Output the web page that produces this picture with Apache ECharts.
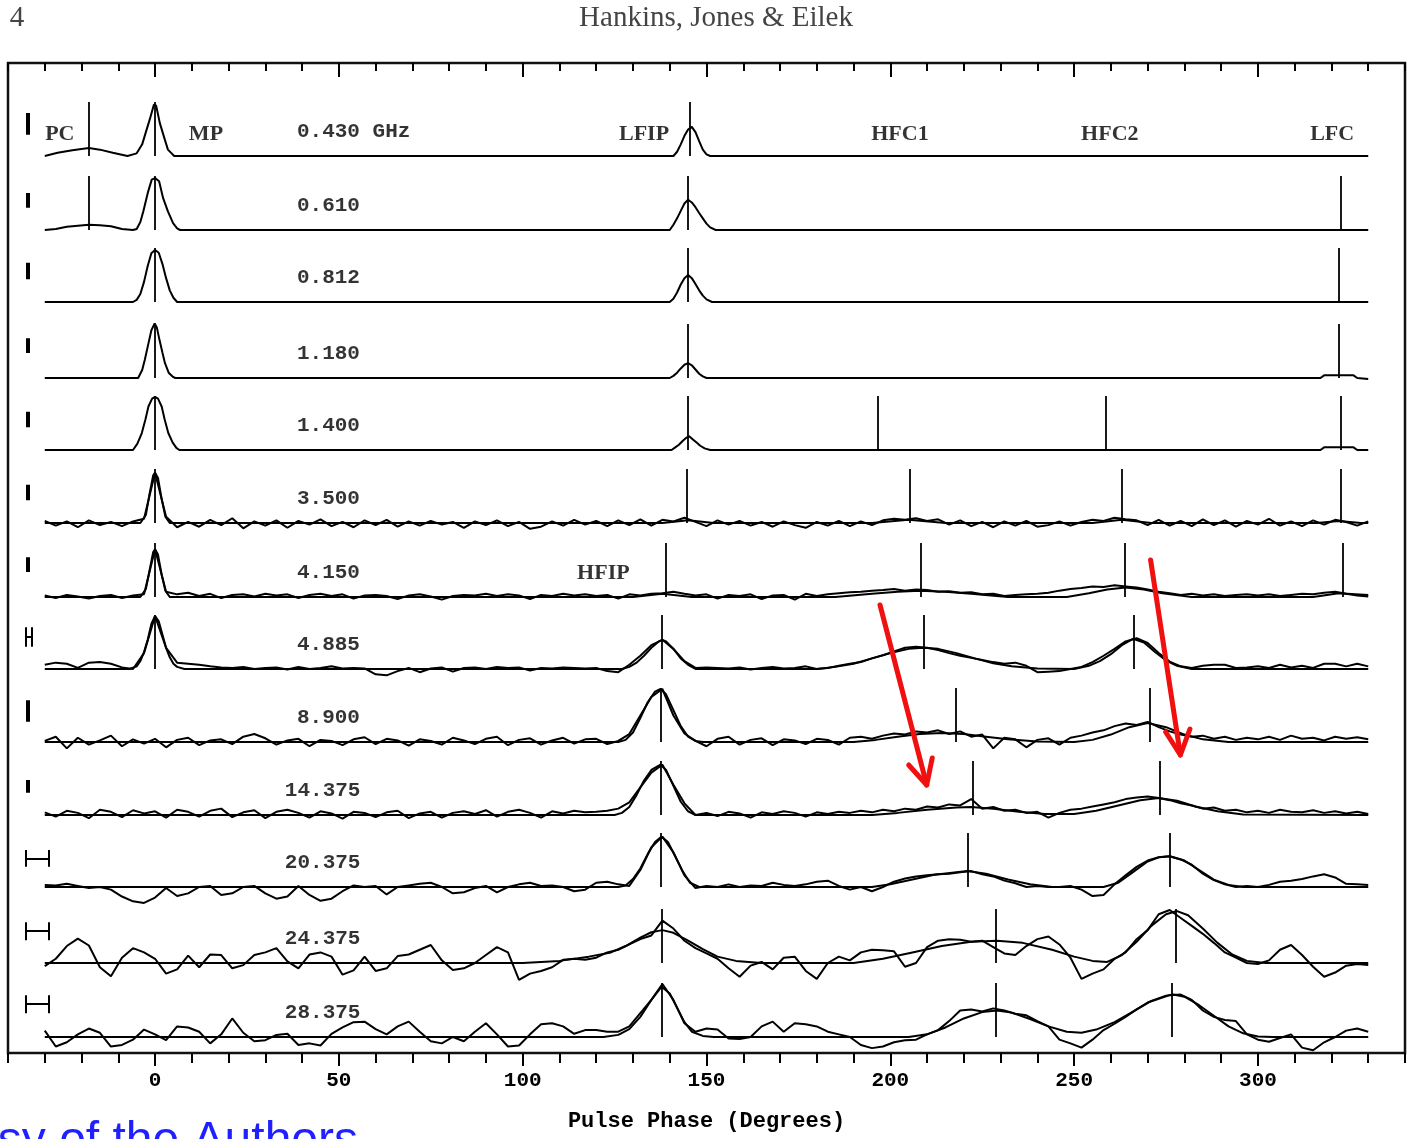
<!DOCTYPE html>
<html>
<head>
<meta charset="utf-8">
<script src="https://cdn.jsdelivr.net/npm/echarts@6/dist/echarts.min.js"></script>
<style>
html,body{margin:0;padding:0;background:#fff}
#chart{width:1408px;height:1139px}
</style>
</head>
<body>
<div id="chart"></div>
<script>
// ---- data (intensity: 1 = full panel height) ----

var freqLabels = ['0.430 GHz','0.610','0.812','1.180','1.400','3.500','4.150','4.885','8.900','14.375','20.375','24.375','28.375'];
var majorTicks = [0, 50, 100, 150, 200, 250, 300];

// smooth low-frequency profiles, [phase, intensity]
var prof430 = [[-30,0],[-26.5,0.06],[-22.5,0.11],[-18,0.15],[-15,0.12],[-11.5,0.06],[-7.5,0],[-5,0.05],[-3.5,0.22],[-2.5,0.45],[-1.4,0.7],[-0.3,0.97],[0.3,0.95],[1.3,0.62],[2.7,0.3],[3.5,0.12],[4.5,0.05],[5.2,0],
  [141,0],[142,0.08],[143,0.22],[144,0.38],[145,0.5],[146,0.55],[147,0.45],[148,0.28],[149,0.12],[150,0.03],[151,0],[330,0]];
var prof610 = [[-30,0],[-27,0.02],[-24,0.06],[-21,0.08],[-18,0.1],[-15,0.09],[-12,0.07],[-9,0.02],[-6,0],[-5,0.02],[-4,0.15],[-3.2,0.35],[-1.9,0.72],[-0.9,0.95],[0,0.98],[1.1,0.92],[2.2,0.6],[3.5,0.35],[4.9,0.13],[6,0.03],[6.8,0],
  [140,0],[141,0.1],[142,0.22],[143,0.36],[144,0.5],[145,0.57],[146,0.52],[147,0.43],[148,0.32],[149,0.22],[150,0.12],[151,0.05],[152.5,0],[330,0]];
var prof812 = [[-30,0],[-22,0],[-21.5,0.03],[-21,0],[-6,0],[-5,0.04],[-4,0.15],[-3,0.38],[-2,0.68],[-1,0.92],[0,0.98],[1,0.93],[2,0.72],[3,0.45],[4,0.22],[5,0.08],[6,0],
  [140,0],[141,0.06],[142,0.18],[143,0.33],[144,0.45],[145,0.51],[146,0.45],[147,0.34],[148,0.22],[149,0.12],[150,0.05],[151.5,0],[330,0]];
var prof1180 = [[-30,0],[-6,0],[-4.6,0],[-3.5,0.15],[-2.8,0.34],[-1.9,0.62],[-1,0.9],[-0.1,1.03],[0.5,0.95],[1.2,0.72],[2,0.48],[2.7,0.28],[3.7,0.1],[4.9,0.02],[5.5,0],
  [140,0],[141,0.04],[142,0.1],[143,0.18],[144,0.25],[145,0.28],[146,0.24],[147,0.16],[148,0.08],[149,0.03],[150,0],[317,0],[318,0.05],[326,0.05],[327,0],[330,-0.02]];
var prof1400 = [[-30,0],[-6,0],[-4.8,0.12],[-3.6,0.32],[-2.6,0.58],[-1.8,0.82],[-0.8,0.97],[0,1.0],[0.8,0.97],[1.8,0.82],[2.6,0.58],[3.6,0.32],[4.8,0.14],[5.8,0.04],[6.6,0],
  [140.5,0],[141.5,0.05],[142.5,0.1],[143.5,0.17],[144.5,0.23],[145.3,0.26],[146.3,0.2],[147.3,0.14],[148.3,0.08],[149.5,0.03],[151,0],[317,0],[318,0.05],[326,0.05],[327,0],[330,0]];

// noisy high-frequency scans: one value every 3 deg from -30 to 330 (rows of 30 deg)
var obs3500 = [
  0.04,-0.05,0.03,-0.08,0.05,-0.04,0.02,-0.06,0.03,0.08,
  0.95,0.12,-0.08,0.02,-0.07,0.06,-0.04,0.09,-0.1,0.03,
  -0.05,0.05,-0.09,0.04,-0.03,0.07,-0.06,0.02,-0.08,0.05,
  -0.04,0.06,-0.07,0.03,-0.05,0.04,-0.03,0.02,-0.09,0.03,
  -0.04,0.05,-0.06,0.02,-0.11,-0.07,0.03,-0.05,0.06,-0.03,
  0.04,-0.06,0.05,-0.04,0.07,-0.05,0.06,0.03,0.1,0.02,
  -0.06,0.05,-0.03,0.04,-0.05,0.02,-0.07,0.03,-0.04,-0.09,
  0.02,-0.05,0.04,-0.06,0.03,-0.04,0.05,0.08,0.06,0.09,
  0.04,0.07,-0.03,0.05,-0.06,0.02,-0.08,0.03,-0.05,0.04,
  -0.07,-0.04,0.03,-0.05,0.02,0.06,0.04,0.1,0.07,0.05,
  -0.04,0.06,-0.05,0.04,-0.06,0.07,-0.04,0.05,-0.07,0.04,
  -0.03,0.08,-0.05,0.03,-0.06,0.05,-0.03,0.06,0.02,-0.05,
  0.03];
var obs4150 = [
  0.03,-0.02,0.04,0.01,-0.03,0.02,0.04,-0.02,0.03,0.05,
  0.9,0.1,0.05,0.08,0.02,0.06,-0.02,0.04,0.05,0.01,
  0.06,0.03,0.05,-0.02,0.04,0.06,0.02,0.05,-0.03,0.03,
  0.04,0.02,-0.04,0.03,0.05,0.01,-0.05,0.02,0.04,0.03,
  0.06,0.02,0.05,0.03,-0.04,0.04,0.02,0.06,0.03,0.05,
  0.02,0.04,-0.03,0.05,0.03,0.06,0.07,0.1,0.06,0.03,
  0.05,-0.03,0.04,0.02,0.05,-0.04,0.03,0.04,-0.05,0.06,
  0.02,0.05,0.07,0.09,0.1,0.12,0.13,0.15,0.12,0.14,
  0.13,0.1,0.11,0.08,0.09,0.05,0.06,0.02,0.04,0.05,
  0.06,0.08,0.12,0.15,0.17,0.2,0.19,0.22,0.2,0.18,
  0.14,0.1,0.07,0.04,0.06,0.03,0.05,0.02,0.04,0.05,
  0.03,0.05,0.02,0.04,0.06,0.05,0.08,0.1,0.06,0.03,
  0.01];
var obs4885 = [
  0.08,0.12,0.1,0.02,0.12,0.13,0.1,0.03,0.0,0.3,
  1.0,0.4,0.12,0.1,0.08,0.05,0.03,0.02,0.04,0.0,
  0.02,0.03,-0.01,0.04,0.0,0.02,0.05,0.01,0.02,0.01,
  -0.1,-0.12,-0.04,0.02,-0.06,0.01,0.03,-0.05,0.02,0.03,
  0.0,0.04,0.02,0.03,-0.03,0.02,0.01,0.03,0.02,0.01,
  0.02,-0.04,-0.06,0.08,0.25,0.45,0.55,0.38,0.15,0.02,
  0.03,0.02,0.01,0.03,-0.01,0.02,0.04,0.01,0.02,0.05,
  0.0,0.02,0.06,0.1,0.13,0.2,0.26,0.33,0.4,0.42,
  0.4,0.36,0.3,0.25,0.21,0.17,0.13,0.1,0.12,0.06,
  -0.06,-0.05,-0.04,0.0,0.04,0.13,0.25,0.38,0.52,0.58,
  0.49,0.3,0.14,0.05,0.02,0.06,0.08,0.08,0.02,0.03,
  0.05,0.02,0.08,0.03,0.06,0.02,0.1,0.1,0.05,0.1,
  0.05];
var obs8900 = [
  0.02,0.1,-0.12,0.08,-0.05,0.03,0.12,-0.08,0.05,-0.03,
  0.06,-0.1,0.04,0.08,-0.06,0.03,0.05,-0.04,0.1,0.15,
  0.07,-0.05,0.03,0.06,-0.08,0.04,0.02,-0.06,0.05,0.09,
  -0.04,0.06,0.03,-0.07,0.05,0.02,-0.05,0.08,0.03,-0.04,
  0.06,0.1,-0.06,0.04,0.07,-0.05,0.03,0.08,-0.03,0.05,
  0.06,-0.04,0.02,0.15,0.5,0.85,1.0,0.5,0.16,0.02,
  -0.08,0.06,0.1,-0.05,0.04,0.07,-0.06,0.05,0.03,-0.04,
  0.06,0.04,-0.05,0.08,0.1,0.06,0.12,0.16,0.14,0.2,
  0.18,0.22,0.15,0.2,0.1,0.14,-0.12,0.08,0.05,-0.1,
  0.04,0.07,-0.05,0.08,0.12,0.18,0.22,0.3,0.35,0.32,
  0.38,0.28,0.2,0.14,0.1,0.12,0.06,0.1,0.04,0.08,
  0.05,0.1,0.04,0.12,0.06,0.08,0.03,0.1,0.06,0.09,
  0.05];
var obs14375 = [
  0.05,-0.03,0.08,0.04,-0.06,0.1,0.06,-0.04,0.09,0.03,
  0.07,-0.05,0.1,0.06,-0.03,0.08,0.12,-0.04,0.05,0.09,
  -0.06,0.06,0.1,0.04,-0.05,0.07,0.03,-0.07,0.06,0.04,
  -0.04,0.05,0.08,-0.06,0.03,0.06,-0.05,0.04,0.07,0.02,
  0.09,-0.03,0.06,0.1,0.04,-0.05,0.07,0.03,0.08,0.05,
  0.06,0.08,0.12,0.24,0.52,0.8,0.95,0.57,0.22,0.0,
  0.04,-0.02,0.06,0.03,-0.05,0.05,0.02,0.07,0.04,-0.03,
  0.05,0.02,0.06,0.04,0.08,0.05,0.1,0.07,0.12,0.1,
  0.16,0.14,0.2,0.18,0.3,0.12,0.15,0.08,0.1,0.04,
  0.06,-0.05,0.04,0.1,0.12,0.16,0.2,0.24,0.3,0.33,
  0.35,0.32,0.28,0.22,0.18,0.12,0.14,0.08,0.1,0.05,
  0.08,0.04,0.1,0.06,0.05,0.09,0.04,0.07,0.03,0.06,
  0.02];
var obs20375 = [
  0.04,0.03,0.06,0.02,-0.02,0.0,-0.05,-0.18,-0.27,-0.3,
  -0.2,-0.02,-0.17,-0.12,0.0,0.02,-0.15,-0.12,0.0,0.02,
  -0.12,-0.22,-0.18,0.02,-0.15,-0.26,-0.22,-0.08,0.03,0.0,
  0.02,-0.14,0.0,0.03,0.06,0.08,0.0,-0.12,-0.1,-0.02,
  0.02,-0.1,0.0,0.05,0.08,0.02,0.03,0.0,-0.08,-0.05,
  0.08,0.1,0.05,0.02,0.32,0.75,0.95,0.65,0.22,-0.02,
  0.02,0.0,0.05,0.0,0.03,0.02,0.08,0.04,0.02,0.05,
  0.1,0.12,0.02,-0.05,0.0,-0.08,0.0,0.1,0.16,0.2,
  0.22,0.24,0.25,0.28,0.3,0.24,0.2,0.12,0.07,0.0,
  0.02,0.0,0.0,0.02,-0.05,-0.17,-0.15,0.05,0.22,0.38,
  0.5,0.56,0.58,0.52,0.42,0.25,0.13,0.05,0.0,0.02,
  0.0,0.04,0.1,0.12,0.15,0.2,0.24,0.18,0.06,0.05,
  0.04];
var obs24375 = [
  -0.06,0.08,0.32,0.46,0.33,-0.08,-0.25,0.1,0.28,0.2,
  0.08,-0.2,-0.12,0.14,-0.08,0.16,0.15,-0.1,-0.04,0.15,
  0.2,0.28,0.03,-0.1,0.16,0.2,0.12,-0.22,-0.14,0.12,
  -0.15,-0.1,0.13,0.16,0.25,0.34,0.05,-0.13,-0.1,0.0,
  0.15,0.3,0.2,-0.32,-0.2,-0.15,-0.08,0.06,0.08,0.06,
  0.1,0.2,0.25,0.35,0.45,0.52,0.8,0.65,0.42,0.28,
  0.18,0.08,-0.1,-0.26,-0.05,0.02,-0.12,0.1,0.12,-0.15,
  -0.3,0.0,0.12,0.05,0.2,0.25,0.24,0.22,-0.07,0.0,
  0.3,0.42,0.45,0.44,0.4,0.42,0.3,0.18,0.15,0.32,
  0.45,0.5,0.35,0.1,-0.3,-0.2,-0.12,0.08,0.2,0.45,
  0.62,0.92,1.0,0.85,0.7,0.55,0.38,0.2,0.1,0.0,
  -0.02,0.05,0.25,0.34,0.15,-0.07,-0.26,-0.18,-0.05,-0.02,
  -0.04];
var obs28375 = [
  0.12,-0.18,-0.1,0.05,0.16,0.08,-0.18,-0.15,-0.05,0.14,
  0.05,-0.06,0.2,0.18,0.1,-0.12,0.05,0.35,0.08,-0.08,
  -0.06,0.04,0.06,-0.15,-0.12,-0.16,0.06,0.18,0.28,0.29,
  0.15,0.05,0.2,0.29,0.1,-0.08,-0.12,0.0,-0.08,0.1,
  0.26,0.05,-0.18,-0.16,0.05,0.24,0.26,0.2,0.06,0.13,
  0.13,0.1,0.1,0.2,0.45,0.7,1.0,0.7,0.26,0.1,
  0.16,0.14,-0.03,-0.04,0.0,0.2,0.29,0.1,0.26,0.24,
  0.2,0.1,0.05,0.0,-0.15,-0.21,-0.18,-0.1,-0.06,-0.05,
  0.05,0.13,0.3,0.5,0.52,0.48,0.54,0.5,0.44,0.41,
  0.3,0.2,-0.05,-0.12,-0.2,-0.05,0.13,0.25,0.38,0.52,
  0.65,0.72,0.79,0.8,0.7,0.5,0.38,0.32,0.3,0.05,
  -0.05,-0.09,-0.02,0.05,-0.2,-0.25,-0.1,0.0,0.12,0.16,
  0.1];

// model fits drawn over the noisy scans, [phase, intensity]
var fit3500 = [[-30,0],[-4,0],[-2.5,0.15],[-1.5,0.55],[-0.5,0.9],[0,0.95],[0.8,0.85],[1.8,0.45],[2.8,0.12],[4,0],[138,0],[145,0.05],[152,0],[195,0],[205,0.06],[215,0],[255,0],[263,0.06],[271,0],[316,0],[322,0.04],[328,0],[330,0]];
var fit4150 = [[-30,0],[-4,0],[-2.5,0.15],[-1.5,0.5],[-0.5,0.85],[0,0.9],[0.8,0.8],[1.8,0.42],[2.8,0.12],[4,0],[130,0],[138,0.06],[146,0],[185,0],[195,0.06],[202,0.1],[208,0.12],[215,0.1],[222,0.06],[232,0],[248,0],[254,0.07],[259,0.14],[264,0.18],[269,0.14],[274,0.07],[282,0],[315,0],[322,0.07],[330,0.04]];
var fit4885 = [[-30,0],[-7,0],[-5,0.05],[-4,0.15],[-3,0.32],[-2,0.55],[-1,0.85],[0,1.0],[1,0.9],[2,0.65],[3,0.4],[4,0.22],[5,0.1],[6,0.04],[8,0],
  [127,0],[129,0.04],[131,0.12],[133,0.25],[135,0.4],[137,0.52],[138,0.55],[139,0.52],[141,0.38],[143,0.2],[145,0.08],[147,0],
  [180,0],[185,0.04],[190,0.1],[195,0.2],[200,0.3],[205,0.38],[209,0.4],[213,0.38],[218,0.3],[223,0.2],[228,0.11],[233,0.05],[240,0.01],[250,0],
  [254,0.06],[257,0.15],[260,0.28],[263,0.45],[266,0.57],[269,0.5],[272,0.32],[275,0.16],[278,0.06],[282,0],[330,0]];
var fit8900 = [[-30,0],[126,0],[128,0.04],[130,0.18],[132,0.45],[134,0.75],[136,0.95],[137.5,1.0],[139,0.9],[141,0.6],[143,0.3],[145,0.1],[147,0.02],[149,0],
  [190,0],[196,0.04],[202,0.1],[208,0.15],[214,0.17],[220,0.15],[226,0.1],[232,0.05],[240,0.01],[250,0],[255,0.04],[260,0.14],[265,0.28],[270,0.36],[275,0.28],[280,0.14],[285,0.05],[292,0],[330,0]];
var fit14375 = [[-30,0],[125,0],[127,0.04],[129,0.15],[131,0.38],[133,0.65],[135,0.85],[137.5,0.95],[139,0.85],[141,0.55],[143,0.25],[145,0.07],[147,0],
  [195,0],[202,0.04],[210,0.1],[218,0.14],[222,0.15],[228,0.12],[235,0.06],[242,0.02],[250,0.02],[256,0.08],[262,0.18],[268,0.28],[273,0.32],[278,0.27],[283,0.16],[289,0.07],[296,0.01],[330,0]];
var fit20375 = [[-30,0],[126,0],[128,0.03],[130,0.15],[132,0.35],[134,0.62],[136,0.85],[137.8,0.95],[139.5,0.85],[141.5,0.58],[143.5,0.3],[145.5,0.08],[148,0],
  [195,0],[200,0.05],[206,0.14],[212,0.23],[218,0.28],[221,0.3],[226,0.25],[232,0.14],[238,0.05],[244,0],[258,0],[262,0.08],[266,0.28],[270,0.48],[273,0.56],[276,0.58],[280,0.5],[284,0.32],[288,0.14],[292,0.04],[296,0],[330,0]];
var fit24375 = [[-30,0],[100,0],[110,0.04],[118,0.12],[124,0.2],[128,0.32],[132,0.48],[135,0.58],[138,0.62],[141,0.57],[145,0.42],[149,0.26],[153,0.12],[158,0.04],[165,0],
  [190,0],[198,0.08],[206,0.2],[214,0.32],[222,0.4],[229,0.42],[236,0.38],[244,0.25],[250,0.12],[255,0.04],[259,0.02],[263,0.15],[267,0.4],[271,0.7],[275,0.92],[278,0.98],[281,0.9],[285,0.65],[289,0.38],[293,0.16],[297,0.04],[302,0],[330,0]];
var fit28375 = [[-30,0],[122,0],[126,0.04],[129,0.15],[132,0.38],[135,0.7],[137.8,0.95],[140,0.82],[142,0.55],[144,0.28],[146,0.1],[149,0.02],[152,0],
  [205,0],[210,0.05],[215,0.18],[220,0.35],[225,0.47],[229,0.5],[233,0.46],[238,0.34],[243,0.2],[248,0.1],[252,0.08],[256,0.14],[261,0.28],[266,0.48],[271,0.68],[275,0.78],[277,0.8],[280,0.76],[284,0.6],[288,0.4],[292,0.2],[296,0.07],[300,0.01],[304,0],[330,0]];

// component phases (deg) marked by a vertical line on each scan
var compPhase = [
  [-18, 0, 145.5],
  [-18, 0, 145, 322.6],
  [0, 145, 322],
  [0, 145, 322],
  [0, 145, 196.6, 258.7, 322.6],
  [0, 144.6, 205.2, 263, 322.6],
  [0, 138.9, 208.4, 263.9, 323.2],
  [0, 137.8, 209, 266.3],
  [137.5, 217.7, 270.7],
  [137.5, 222.3, 273.4],
  [137.5, 221, 276.1],
  [137.8, 228.8, 277.7],
  [137.8, 228.8, 276.6]
];
var compNames = ['PC', 'MP', 'LFIP', 'HFC1', 'HFC2', 'LFC', 'HFIP'];
var compNamePanel = [0, 0, 0, 0, 0, 0, 6];

// error bars: phase extent (equal = intensity bar) and intensity extent
var errX1 = [-34.7,-34.7,-34.7,-34.7,-34.7,-34.7,-34.7,-35.1,-34.7,-34.7,-35.3,-35.3,-35.3];
var errX2 = [-34.7,-34.7,-34.7,-34.7,-34.7,-34.7,-34.7,-33.5,-34.7,-34.7,-29.0,-29.0,-29.0];
var errLo = [0.40,0.42,0.43,0.47,0.43,0.43,0.47,0.42,0.38,0.42,0.38,0.43,0.45];
var errHi = [0.81,0.70,0.74,0.75,0.72,0.72,0.75,0.79,0.79,0.66,0.70,0.77,0.79];

// red annotation arrows: [phase, height above frame bottom]
var arrowShafts = [[[197.2,448],[209.9,268]], [[270.8,493],[278.9,298]]];
var arrowHeads = [[[205.0,288],[209.9,268],[211.4,295]], [[274.9,321],[278.9,298],[281.5,324]]];

// ---- layout ----
var GRID_START = -30, GRID_STEP = 3;
function onGrid(vals) {
  return vals.map(function (v, k) { return [GRID_START + k * GRID_STEP, v]; });
}
var observed = [prof430, prof610, prof812, prof1180, prof1400,
  onGrid(obs3500), onGrid(obs4150), onGrid(obs4885), onGrid(obs8900),
  onGrid(obs14375), onGrid(obs20375), onGrid(obs24375), onGrid(obs28375)];
var fitted = [null, null, null, null, null, fit3500, fit4150, fit4885, fit8900, fit14375, fit20375, fit24375, fit28375];

var baselines = [156, 230, 302, 378, 450, 523, 597, 669, 742, 815, 887, 963, 1037];
var PX = 53, YMIN = -0.35, YMAX = 1.05, MARK_H = 1.02;
var compNameX = [-29.9, 9.2, 126.2, 194.8, 251.9, 314.2, 114.8];
var compNameY = [0.40, 0.40, 0.40, 0.40, 0.40, 0.40, 0.45];
var INK = '#000';
var monoFont = "'Liberation Mono', 'DejaVu Sans Mono', monospace";
var serifFont = "'Liberation Serif', 'DejaVu Serif', serif";

var grid = [
  {left: 8, right: 3, top: 63, bottom: 86, show: true, borderColor: '#111', borderWidth: 2.5},
  {left: 8, right: 3, top: 63, bottom: 86}
];
var xAxis = [
  {gridIndex: 0, type: 'value', position: 'bottom', min: -40, max: 340, interval: 10,
    axisLine: {show: false}, splitLine: {show: false}, axisLabel: {show: false},
    axisTick: {show: true, length: 10, lineStyle: {color: INK, width: 2}}},
  {gridIndex: 0, type: 'value', position: 'top', min: -40, max: 340, interval: 10,
    axisLine: {show: false}, splitLine: {show: false}, axisLabel: {show: false},
    axisTick: {show: true, inside: true, length: 8, lineStyle: {color: INK, width: 2}}},
  {gridIndex: 1, type: 'value', position: 'bottom', min: -40, max: 340,
    axisLine: {show: false}, splitLine: {show: false},
    axisTick: {show: true, customValues: majorTicks, length: 13, lineStyle: {color: INK, width: 2}},
    axisLabel: {show: true, customValues: majorTicks, margin: 17, color: '#000',
      fontFamily: monoFont, fontWeight: 'bold', fontSize: 21},
    name: 'Pulse Phase (Degrees)', nameLocation: 'middle', nameGap: 57,
    nameTextStyle: {color: '#000', fontFamily: monoFont, fontWeight: 'bold', fontSize: 22}},
  {gridIndex: 1, type: 'value', position: 'top', min: -40, max: 340,
    axisLine: {show: false}, splitLine: {show: false}, axisLabel: {show: false},
    axisTick: {show: true, inside: true, customValues: majorTicks, length: 14, lineStyle: {color: INK, width: 2}}}
];
var yAxis = [
  {gridIndex: 0, type: 'value', min: 0, max: 990, show: false},
  {gridIndex: 1, type: 'value', min: 0, max: 1, show: false}
];
var series = [];

baselines.forEach(function (base, i) {
  var gi = i + 2, xi = i + 4, yi = i + 2;
  grid.push({left: 8, right: 3, top: base - YMAX * PX, height: (YMAX - YMIN) * PX});
  xAxis.push({gridIndex: gi, type: 'value', min: -40, max: 340, show: false});
  yAxis.push({gridIndex: gi, type: 'value', min: YMIN, max: YMAX, show: false});

  series.push({type: 'line', xAxisIndex: xi, yAxisIndex: yi, data: observed[i],
    symbol: 'none', silent: true, z: 3, lineStyle: {color: INK, width: 2}});
  if (fitted[i]) {
    series.push({type: 'line', xAxisIndex: xi, yAxisIndex: yi, data: fitted[i],
      symbol: 'none', silent: true, z: 3, lineStyle: {color: INK, width: 2}});
  }

  // component markers and error bar
  var segs = compPhase[i].map(function (p) {
    return {coords: [[p, 0], [p, MARK_H]]};
  });
  if (errX1[i] === errX2[i]) {
    segs.push({coords: [[errX1[i], errLo[i]], [errX1[i], errHi[i]]], lineStyle: {width: 4}});
  } else {
    var mid = (errLo[i] + errHi[i]) / 2;
    segs.push({coords: [[errX1[i], errLo[i]], [errX1[i], errHi[i]]], lineStyle: {width: 2}});
    segs.push({coords: [[errX2[i], errLo[i]], [errX2[i], errHi[i]]], lineStyle: {width: 2}});
    segs.push({coords: [[errX1[i], mid], [errX2[i], mid]], lineStyle: {width: 2}});
  }
  series.push({type: 'lines', coordinateSystem: 'cartesian2d', xAxisIndex: xi, yAxisIndex: yi,
    silent: true, z: 4, symbol: ['none', 'none'], data: segs,
    lineStyle: {color: INK, width: 1.8, opacity: 1, curveness: 0}});

  // text labels
  var f = freqLabels[i];
  var labels = [{value: [f.length === 6 ? 35.3 : 38.6, 0.45], name: f,
    label: {fontFamily: monoFont, fontWeight: 'bold', fontSize: 21}}];
  compNames.forEach(function (n, k) {
    if (compNamePanel[k] === i) {
      labels.push({value: [compNameX[k], compNameY[k]], name: n,
        label: {fontFamily: serifFont, fontWeight: 'bold', fontSize: 22}});
    }
  });
  series.push({type: 'scatter', xAxisIndex: xi, yAxisIndex: yi, symbolSize: 0, silent: true, z: 5,
    data: labels,
    label: {show: true, position: 'right', distance: 0, formatter: '{b}', color: '#000'}});
});

// red arrows on the frame grid
series.push({type: 'lines', coordinateSystem: 'cartesian2d', xAxisIndex: 0, yAxisIndex: 0,
  polyline: true, silent: true, z: 10, symbol: ['none', 'none'],
  data: arrowShafts.concat(arrowHeads).map(function (c) { return {coords: c}; }),
  lineStyle: {color: '#f01010', width: 5, opacity: 1, cap: 'round', join: 'round'}});

var chart = echarts.init(document.getElementById('chart'));
chart.setOption({
  animation: false,
  backgroundColor: '#fff',
  grid: grid,
  xAxis: xAxis,
  yAxis: yAxis,
  series: series,
  graphic: [
    {type: 'text', x: 17, y: 18, style: {text: '4', font: "29px 'Liberation Serif'", fill: '#444', align: 'center', verticalAlign: 'middle'}},
    {type: 'text', x: 716, y: 18, style: {text: 'Hankins, Jones & Eilek', font: "29px 'Liberation Serif'", fill: '#444', align: 'center', verticalAlign: 'middle'}},
    {type: 'text', x: 358, y: 1142, style: {text: 'Courtesy of the Authors', font: "48px 'Liberation Sans'", fill: '#1f1fff', align: 'right', verticalAlign: 'middle'}}
  ]
});
</script>
</body>
</html>
